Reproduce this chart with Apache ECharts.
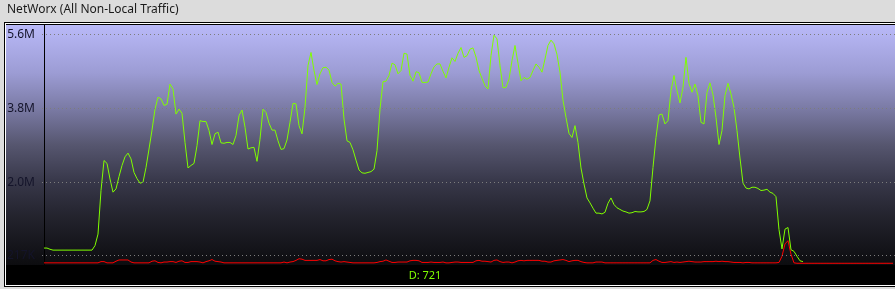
<!DOCTYPE html>
<html>
<head>
<meta charset="utf-8">
<script src="https://cdn.jsdelivr.net/npm/echarts@6/dist/echarts.min.js"></script>
<style>
html,body{margin:0;padding:0;background:#dcdcdc;}
#c{width:895px;height:289px;}
</style>
</head>
<body>
<div id="c"></div>
<script>
// Sampled traffic (MB/s scale "M"), one sample every ~3 px of the original plot
var TITLE = 'NetWorx (All Non-Local Traffic)';
var FOOTER = 'D: 721';
var TICK_VALUES = [5.6, 3.8, 2.0, 0.217];
var TICK_LABELS = ['5.6M', '3.8M', '2.0M', '217K'];

var DOWNLOAD = [
0.40,0.40,0.37,0.35,0.35,0.35,0.35,0.35,0.35,0.35,0.35,0.35,0.35,0.35,0.35,0.35,0.35,
0.46,0.74,1.80,2.53,2.46,2.08,1.76,1.84,2.14,2.41,2.62,2.71,2.57,2.24,2.09,1.98,2.00,2.36,2.81,3.27,3.78,4.07,4.03,3.87,3.90,
4.39,4.27,3.66,3.78,3.68,2.97,2.35,2.41,2.46,2.89,
3.50,3.48,3.48,3.26,2.92,3.18,3.22,2.96,2.95,2.97,
2.97,2.92,3.14,3.62,3.76,3.34,2.81,2.84,2.85,2.51,
3.05,3.78,3.70,3.44,3.27,3.27,3.01,2.80,2.82,3.03,
3.46,3.92,
3.91,3.38,3.18,3.82,4.84,5.16,4.72,4.38,4.64,4.79,
4.80,4.73,4.43,4.34,4.41,4.39,3.54,3.01,2.97,2.79,
2.54,2.30,2.23,2.22,2.24,2.26,2.32,2.77,3.78,4.45,
4.46,4.60,4.90,4.86,4.64,4.72,5.14,5.12,4.60,4.46,
4.69,4.67,
4.43,4.43,4.44,4.64,4.81,4.88,4.88,4.70,4.54,4.80,
5.03,4.94,5.14,5.28,5.04,5.08,5.24,5.27,5.05,4.72,
4.53,4.35,4.27,5.08,5.58,5.49,4.84,4.30,4.31,4.51,
4.96,5.33,4.90,4.47,4.55,4.51,4.55,4.72,4.88,4.80,
4.68,
5.00,5.33,5.46,5.37,5.11,4.68,4.00,3.58,3.19,3.09,
3.38,2.97,2.35,1.96,1.62,1.50,1.37,1.25,1.25,1.23,
1.27,1.49,1.62,1.46,1.38,1.34,1.30,1.28,1.25,1.26,
1.29,1.28,1.28,1.29,1.34,1.55,2.36,3.09,3.64,3.66,
3.42,3.50,
4.23,4.60,4.23,3.93,4.31,5.04,4.41,4.19,4.39,4.11,
3.46,3.42,4.19,4.42,4.13,3.58,2.92,3.26,4.11,4.41,
4.15,3.82,3.26,2.59,1.98,1.86,1.84,1.88,1.88,1.85,
1.80,1.81,1.83,1.76,1.73,1.65,0.85,0.38,0.86,0.90,
0.36,0.32,0.20,0.09,0.07
];

var UPLOAD = [
0.04,0.04,0.04,0.04,0.04,0.04,0.04,0.04,0.04,0.04,0.04,0.04,0.04,0.04,0.04,0.04,0.04,0.04,0.04,
0.07,0.07,0.04,0.04,0.04,0.08,0.11,0.11,0.11,0.11,0.06,0.04,
0.04,0.04,0.04,0.04,0.04,
0.08,0.09,0.05,0.04,0.06,0.06,
0.07,0.07,0.05,0.08,0.09,0.05,0.05,0.07,0.07,0.07,0.06,0.04,0.07,0.09,0.12,0.08,0.07,0.06,
0.04,0.04,0.04,0.04,0.04,0.04,0.04,0.04,0.04,0.04,0.04,0.04,0.04,0.04,0.04,0.04,0.04,0.04,0.04,0.04,
0.06,0.04,0.06,0.07,
0.10,0.14,0.13,0.10,0.10,0.10,0.10,0.10,0.12,0.09,0.09,0.12,0.13,0.09,0.07,0.06,0.07,0.06,0.05,
0.04,0.04,0.04,0.04,0.04,0.04,0.04,0.04,
0.05,0.07,0.08,0.11,0.08,0.05,0.05,0.06,0.06,0.06,0.06,0.09,0.10,0.10,0.09,
0.05,0.05,0.05,0.06,0.05,0.05,0.05,0.06,0.04,0.04,
0.05,0.06,0.06,0.05,0.05,0.05,0.05,0.05,
0.09,0.10,0.08,0.08,0.07,0.06,0.10,0.11,0.07,0.05,0.06,0.06,0.04,0.06,0.09,0.10,0.09,
0.10,0.10,0.10,0.10,0.10,0.08,
0.08,0.06,0.06,0.09,0.10,0.11,0.12,0.10,0.07,0.09,0.10,0.10,0.07,0.05,0.04,0.04,0.04,0.06,0.06,0.06,
0.04,0.04,0.04,0.04,0.04,0.04,0.04,0.04,0.04,0.04,0.04,0.04,0.04,0.04,0.04,0.04,
0.10,0.12,0.08,0.05,0.05,0.06,
0.07,0.05,0.06,0.05,0.06,0.07,0.08,0.07,0.06,0.06,
0.06,0.07,0.07,0.07,0.07,0.08,0.07,0.08,0.07,0.07,
0.06,0.05,0.05,0.05,0.04,0.05,0.05,0.04,
0.04,0.04,0.04,0.04,0.04,0.04,0.04,0.04,
0.05,0.20,0.50,0.58,0.25,0.04,
0.03,0.03,0.03,0.03,0.03,0.03,0.03,0.03,0.03,0.03,0.03,
0.03,0.03,0.03,0.03,0.03,0.03,0.03,0.03,0.03,0.03,0.03,
0.03,0.03,0.03,0.03,0.03,0.03,0.03,0.03,0.03,0.03,0.03
];

var chart = echarts.init(document.getElementById('c'), null, {renderer: 'canvas'});

function toPairs(arr) { return arr.map(function (v, i) { return [i, v]; }); }

var option = {
  animation: false,
  backgroundColor: '#dcdcdc',
  grid: {left: 42, right: 0, top: 24.5, bottom: 24.5, containLabel: false},
  xAxis: {
    type: 'value', min: -0.667, max: 283.667,
    show: false
  },
  yAxis: {
    type: 'value', min: 0, max: 5.84,
    axisLine: {show: true, lineStyle: {color: '#000', width: 1}},
    axisTick: {show: false},
    axisLabel: {show: false},
    splitLine: {show: false}
  },
  graphic: {
    elements: [
      {type: 'rect', z: -100, shape: {x: 4, y: 22, width: 892, height: 265}, style: {fill: '#000'}},
      {type: 'rect', z: -99, shape: {x: 5, y: 23, width: 891, height: 263}, style: {fill: '#fff'}},
      {type: 'rect', z: -98, shape: {x: 6, y: 24, width: 890, height: 261}, style: {fill: '#000'}},
      {type: 'rect', z: -97, shape: {x: 6, y: 25, width: 890, height: 240},
        style: {fill: new echarts.graphic.LinearGradient(0, 0, 0, 1, [
          {offset: 0, color: '#b9b9f8'},
          {offset: 0.2, color: '#9c9cd4'},
          {offset: 0.35, color: '#7a7aa4'},
          {offset: 0.5, color: '#56566f'},
          {offset: 0.65, color: '#38384a'},
          {offset: 0.8, color: '#23232d'},
          {offset: 1, color: '#0c0c0f'}
        ])}},
      {type: 'text', z: 100, x: 7, y: 4,
        style: {text: TITLE, fill: '#1a1a1a', font: '12px "Noto Sans", sans-serif'}},
      {type: 'text', z: 100, x: 425, y: 276,
        style: {text: FOOTER, fill: '#80ff00', font: '11px "Noto Sans", sans-serif', align: 'center', verticalAlign: 'middle'}}
    ]
  },
  series: [
    {
      type: 'line', name: 'Download', data: toPairs(DOWNLOAD),
      showSymbol: false, symbol: 'none', z: 4,
      lineStyle: {color: '#80ff00', width: 1},
      itemStyle: {color: '#80ff00'}
    },
    {
      type: 'line', name: 'Upload', data: toPairs(UPLOAD),
      showSymbol: false, symbol: 'none', z: 3,
      lineStyle: {color: '#ff0000', width: 1},
      itemStyle: {color: '#ff0000'},
      markLine: {
        silent: true, symbol: ['none', 'none'], animation: false,
        lineStyle: {color: '#7c7c7c', type: [1, 3], width: 1},
        label: {show: true, position: 'start', distance: 7, formatter: '{b}',
          color: '#14142a', fontSize: 12, fontFamily: '"Noto Sans", sans-serif'},
        emphasis: {disabled: true},
        data: TICK_VALUES.map(function (v, i) { return {yAxis: v, name: TICK_LABELS[i]}; })
      }
    }
  ]
};
chart.setOption(option);
</script>
</body>
</html>
